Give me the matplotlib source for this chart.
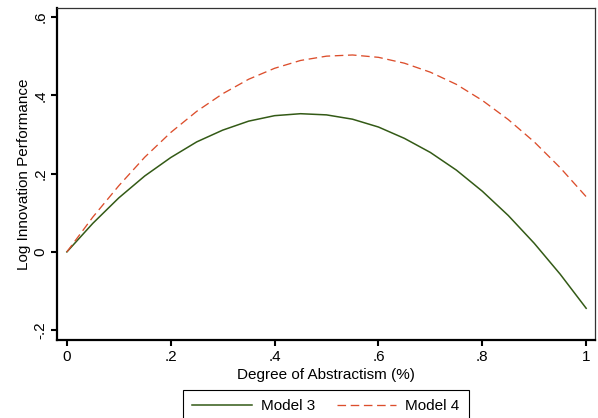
import matplotlib
matplotlib.use("Agg")
import matplotlib.pyplot as plt

plt.rcParams['font.family'] = ['Liberation Sans', 'DejaVu Sans']

# values, every 0.05 on the x axis
abstractism = [0.00, 0.05, 0.10, 0.15, 0.20, 0.25, 0.30, 0.35, 0.40, 0.45, 0.50,
               0.55, 0.60, 0.65, 0.70, 0.75, 0.80, 0.85, 0.90, 0.95, 1.00]
model3 = [0.000, 0.073, 0.138, 0.194, 0.241, 0.281, 0.311, 0.334, 0.348, 0.353, 0.350,
          0.339, 0.319, 0.290, 0.254, 0.209, 0.155, 0.093, 0.022, -0.057, -0.144]
model4 = [0.000, 0.089, 0.169, 0.242, 0.305, 0.359, 0.404, 0.441, 0.469, 0.489, 0.500,
          0.503, 0.497, 0.482, 0.459, 0.428, 0.387, 0.338, 0.281, 0.215, 0.141]

xticks = [0, 0.2, 0.4, 0.6, 0.8, 1.0]
xticklabels = ["0", ".2", ".4", ".6", ".8", "1"]
yticks = [-0.2, 0, 0.2, 0.4, 0.6]
yticklabels = ["-.2", "0", ".2", ".4", ".6"]

green = '#335a16'
red = '#dc4e2c'
fs = 11

fig = plt.figure(figsize=(5.98, 4.18), dpi=100)
ax = fig.add_axes([57/598, 78/418, 538/598, 332/418])

ax.plot(abstractism, model3, color=green, lw=1.1, label='Model 3')
ax.plot(abstractism, model4, color=red, lw=0.95, linestyle=(0, (6.5, 3.5)), label='Model 4')

ax.set_xlim(-0.019, 1.017)
ax.set_ylim(-0.225, 0.623)
ax.set_xticks(xticks)
ax.set_xticklabels(xticklabels)
ax.set_yticks(yticks)
ax.set_yticklabels(yticklabels, rotation=90, va='center')

for side in ['left', 'bottom']:
    ax.spines[side].set_linewidth(1.6)
    ax.spines[side].set_color('black')
for side in ['top', 'right']:
    ax.spines[side].set_linewidth(0.9)
    ax.spines[side].set_color('#333333')

ax.tick_params(axis='both', direction='out', length=4, width=1.5, labelsize=fs, pad=3)

ax.set_xlabel('Degree of Abstractism (%)', fontsize=fs, labelpad=3)
ax.set_ylabel('Log Innovation Performance', fontsize=fs, labelpad=1.5)

leg = fig.legend(loc='upper left', bbox_to_anchor=(183/598, 28/418), ncol=2,
                 fontsize=fs, handlelength=3.9, handletextpad=0.6, columnspacing=1.4,
                 borderpad=0.6, borderaxespad=0, fancybox=False, framealpha=1,
                 edgecolor='black')
leg.get_frame().set_linewidth(0.8)

fig.savefig('out.png', dpi=100)
